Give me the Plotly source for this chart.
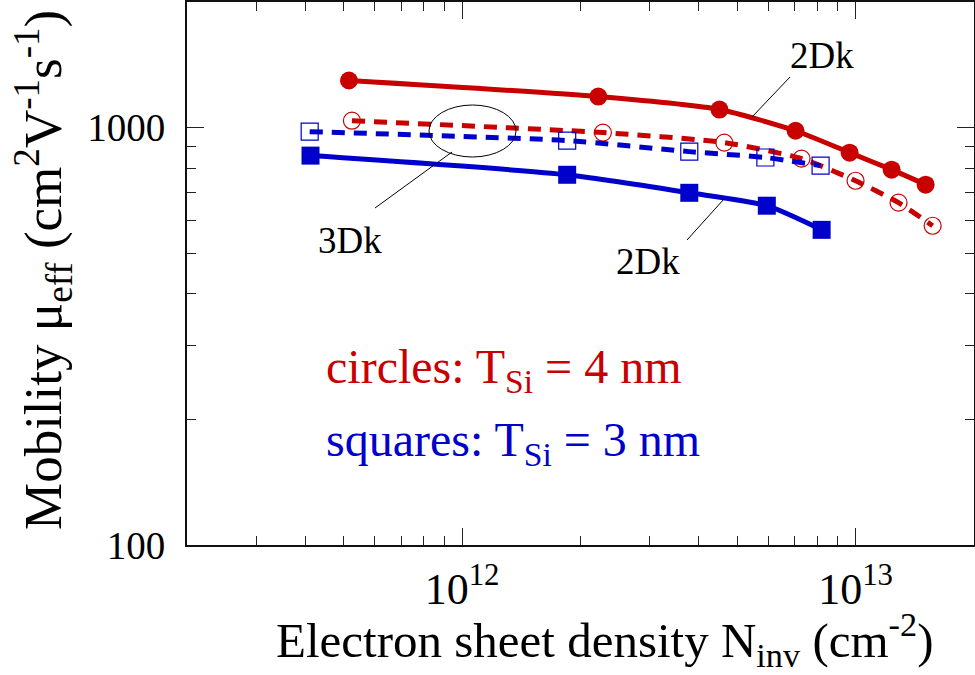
import plotly.graph_objects as go

# ---- data ----
n_4nm_2dk = [5.16e11, 2.22e12, 4.51e12, 7.04e12, 9.66e12, 1.235e13, 1.507e13]
mu_4nm_2dk = [1297, 1187, 1105, 983, 871, 793, 730]

n_4nm_3dk = [5.25e11, 2.28e12, 4.64e12, 7.29e12, 1.0e13, 1.286e13, 1.57e13]
mu_4nm_3dk = [1039, 973, 921, 843, 746, 661, 582]

n_3nm_3dk = [4.10e11, 1.85e12, 3.78e12, 5.90e12, 8.15e12]
mu_3nm_3dk = [978, 931, 876, 848, 811]

n_3nm_2dk = [4.12e11, 1.85e12, 3.78e12, 5.95e12, 8.20e12]
mu_3nm_2dk = [857, 771, 698, 650, 569]

x_major = [1e12, 1e13]
x_major_text = ["10<sup>12</sup>", "10<sup>13</sup>"]
x_minor = [3e11, 4e11, 5e11, 6e11, 7e11, 8e11, 9e11,
           2e12, 3e12, 4e12, 5e12, 6e12, 7e12, 8e12, 9e12]
y_major = [100, 1000]
y_major_text = ["100", "1000"]
y_minor = [200, 300, 400, 500, 600, 700, 800, 900]

RED = "#C80000"
BLUE = "#0000CC"
FONT = "Liberation Serif"

fig = go.Figure()

fig.add_trace(go.Scatter(x=n_4nm_2dk, y=mu_4nm_2dk, mode="lines+markers",
                         line=dict(color=RED, width=5, shape="spline", smoothing=0.6),
                         marker=dict(symbol="circle", size=18, color=RED)))
fig.add_trace(go.Scatter(x=n_4nm_3dk, y=mu_4nm_3dk, mode="lines+markers",
                         line=dict(color=RED, width=5, dash="13px,9px", shape="spline", smoothing=0.6),
                         marker=dict(symbol="circle-open", size=17, color=RED, line=dict(width=1.2, color=RED))))
fig.add_trace(go.Scatter(x=n_3nm_3dk, y=mu_3nm_3dk, mode="lines+markers",
                         line=dict(color=BLUE, width=5, dash="13px,9px", shape="spline", smoothing=0.6),
                         marker=dict(symbol="square-open", size=17, color=BLUE, line=dict(width=1.2, color=BLUE))))
fig.add_trace(go.Scatter(x=n_3nm_2dk, y=mu_3nm_2dk, mode="lines+markers",
                         line=dict(color=BLUE, width=5, shape="spline", smoothing=0.6),
                         marker=dict(symbol="square", size=18, color=BLUE)))

axis_common = dict(type="log", showgrid=False, zeroline=False, showline=True, automargin=False,
                   linecolor="#111", linewidth=1.8, ticks="inside", ticklen=17,
                   tickwidth=1, tickcolor="#222",
                   minor=dict(ticks="inside", ticklen=9, tickwidth=1, tickcolor="#222", showgrid=False))

xr = [11.30103, 13.30103]
yr = [2.0, 3.30103]

fig.update_layout(
    width=975, height=675,
    margin=dict(l=187, r=1, t=2, b=130, autoexpand=False),
    paper_bgcolor="white", plot_bgcolor="white",
    showlegend=False,
    font=dict(family=FONT, color="black"),
    xaxis=dict(axis_common, range=xr, tickmode="array", tickvals=x_major, ticktext=x_major_text,
               minor=dict(axis_common["minor"], tickmode="array", tickvals=x_minor),
               tickfont=dict(size=44, family=FONT), ticklabelstandoff=4),
    yaxis=dict(axis_common, range=yr, tickmode="array", tickvals=y_major, ticktext=y_major_text,
               minor=dict(axis_common["minor"], tickmode="array", tickvals=y_minor),
               tickfont=dict(size=39, family=FONT), ticklabelstandoff=12),
    xaxis2=dict(axis_common, range=xr, overlaying="x", side="top", showticklabels=False,
                tickmode="array", tickvals=x_major, anchor="y",
                minor=dict(axis_common["minor"], tickmode="array", tickvals=x_minor)),
    yaxis2=dict(axis_common, range=yr, overlaying="y", side="right", showticklabels=False,
                tickmode="array", tickvals=y_major, anchor="x",
                minor=dict(axis_common["minor"], tickmode="array", tickvals=y_minor)),
)
# dummy trace so the mirror axes render
fig.add_trace(go.Scatter(x=[None], y=[None], xaxis="x2", yaxis="y2", showlegend=False, hoverinfo="skip"))


def px(xp):
    return (xp - 187) / 787.0


def py(yp):
    return (545 - yp) / 543.0


annotations = [
    dict(text="Electron sheet density N<sub>inv</sub> (cm<sup>-2</sup>)", x=px(605), y=py(640),
         font=dict(size=49)),
    dict(text="Mobility μ<sub>eff</sub> (cm<sup>2</sup>V<sup>-1</sup>s<sup>-1</sup>)", x=px(43), y=py(270),
         textangle=-90, font=dict(size=53)),
    dict(text="circles: T<sub>Si</sub> = 4 nm", x=px(324), y=py(370), xanchor="left",
         font=dict(size=48, color=RED)),
    dict(text="squares: T<sub>Si</sub> = 3 nm", x=px(324), y=py(443), xanchor="left",
         font=dict(size=48, color=BLUE)),
    dict(text="2Dk", x=px(822), y=py(56), font=dict(size=37)),
    dict(text="3Dk", x=px(350), y=py(240), font=dict(size=37)),
    dict(text="2Dk", x=px(648), y=py(261), font=dict(size=37)),
]
for a in annotations:
    a.update(xref="paper", yref="paper", showarrow=False)
    a.setdefault("xanchor", "center")
    a.setdefault("yanchor", "middle")
    a["font"] = dict(family=FONT, color=a["font"].get("color", "black"), size=a["font"]["size"])
fig.update_layout(annotations=annotations)

shapes = [
    dict(type="line", x0=px(752), y0=py(117), x1=px(790), y1=py(77)),
    dict(type="line", x0=px(375), y0=py(208), x1=px(452), y1=py(152)),
    dict(type="line", x0=px(687), y0=py(240), x1=px(724), y1=py(199)),
    dict(type="circle", x0=px(429), y0=py(105), x1=px(516), y1=py(157)),
]
for s in shapes:
    s.update(xref="paper", yref="paper", line=dict(color="black", width=1))
fig.update_layout(shapes=shapes)

fig.write_html("out.html", config={"displayModeBar": False},
               post_script="document.body.style.margin='0';document.body.style.overflow='hidden';")
